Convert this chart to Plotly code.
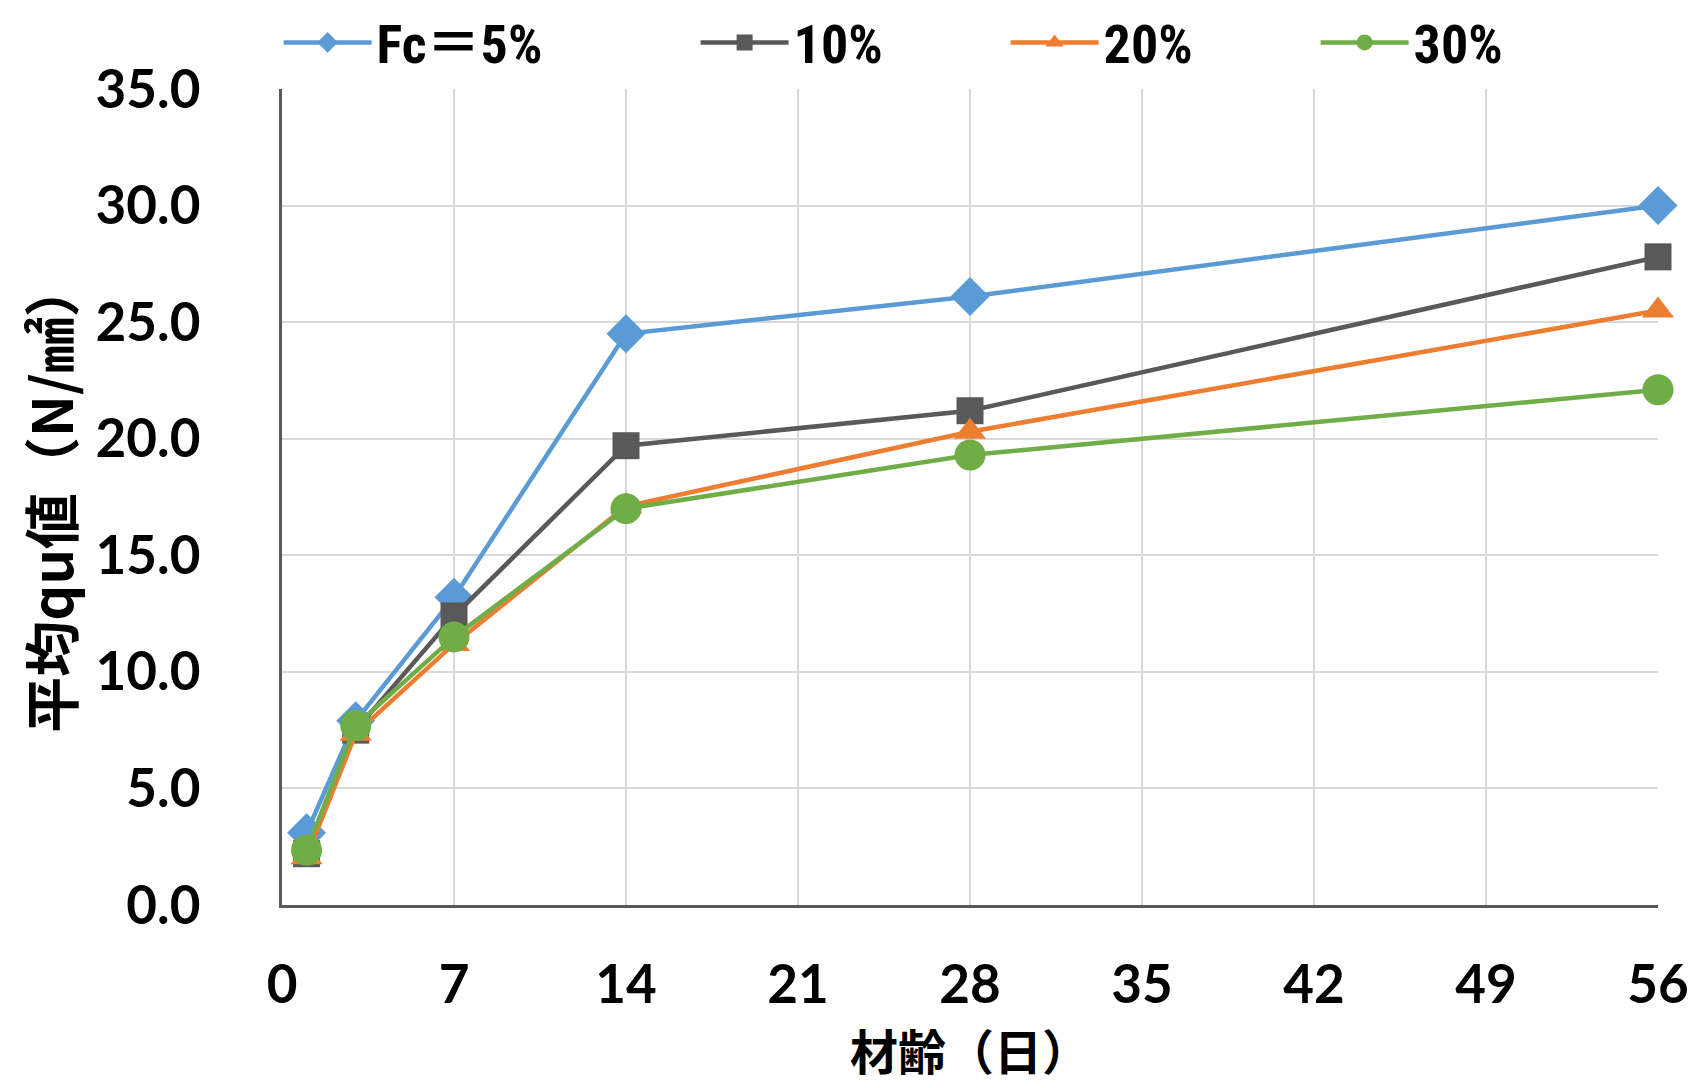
import plotly.graph_objects as go

days = [1, 3, 7, 14, 28, 56]
fc5 = [3.1, 7.9, 13.2, 24.5, 26.1, 30.0]
fc10 = [2.2, 7.5, 12.4, 19.7, 21.2, 27.8]
fc20 = [2.05, 7.35, 11.2, 17.1, 20.3, 25.5]
fc30 = [2.35, 7.7, 11.5, 17.0, 19.3, 22.1]
names = ["Fc＝5%", "10%", "20%", "30%"]
colors = ["#5B9BD5", "#595959", "#ED7D31", "#70AD47"]
symbols = ["diamond", "square", "triangle-up", "circle"]
sizes = [30, 27, 28, 31]
legends = ["legend", "legend2", "legend2", "legend2"]
x_ticks = [0, 7, 14, 21, 28, 35, 42, 49, 56]
y_ticks = [0, 5, 10, 15, 20, 25, 30, 35]

fig = go.Figure()
for name, vals, c, s, sz, lg in zip(names, [fc5, fc10, fc20, fc30], colors, symbols, sizes, legends):
    fig.add_trace(go.Scatter(
        x=days, y=vals, name=name, mode="lines+markers",
        line=dict(color=c, width=4.5),
        marker=dict(symbol=s, size=sz, color=c),
        cliponaxis=False, legend=lg,
    ))

num_font = dict(family="Lato, Noto Sans CJK JP", size=53, color="black", weight="bold")
leg_font = dict(family="Liberation Sans Narrow, Roboto Condensed, DejaVu Sans Condensed, Lato, Noto Sans CJK JP",
                size=54, color="black", weight="bold")
leg_common = dict(
    orientation="h", xref="container", yref="container",
    y=0.968, xanchor="left", yanchor="middle",
    entrywidth=207, entrywidthmode="pixels", itemwidth=88,
    font=leg_font, tracegroupgap=0, bgcolor="rgba(0,0,0,0)",
)
fig.update_layout(
    width=1702, height=1088,
    margin=dict(l=274, r=52, t=81, b=191, autoexpand=False),
    paper_bgcolor="white", plot_bgcolor="white",
    showlegend=True,
    legend=dict(x=0.159, **leg_common),
    legend2=dict(x=0.404, **leg_common),
    xaxis=dict(
        range=[0, 56], tickvals=x_ticks, ticktext=[str(v) for v in x_ticks],
        showgrid=True, gridcolor="#d9d9d9", gridwidth=2,
        zeroline=False, showline=True, linecolor="#595959", linewidth=3,
        tickfont=num_font, ticks="", ticklabelstandoff=31,
        title=dict(text="材齢（日）", font=dict(family="Noto Sans CJK JP", size=48, color="black", weight="bold"), standoff=4),
    ),
    yaxis=dict(
        range=[0, 35], tickvals=y_ticks, ticktext=[f"{v:.1f}" for v in y_ticks],
        showgrid=True, gridcolor="#d9d9d9", gridwidth=2,
        zeroline=False, showline=True, linecolor="#595959", linewidth=3,
        tickfont=num_font, ticks="", ticklabelstandoff=68,
        title=dict(text="平均qu値（N/㎟）", font=dict(family="Noto Sans CJK JP", size=56, color="black", weight="bold"), standoff=10),
    ),
)
fig.write_html("out.html")
